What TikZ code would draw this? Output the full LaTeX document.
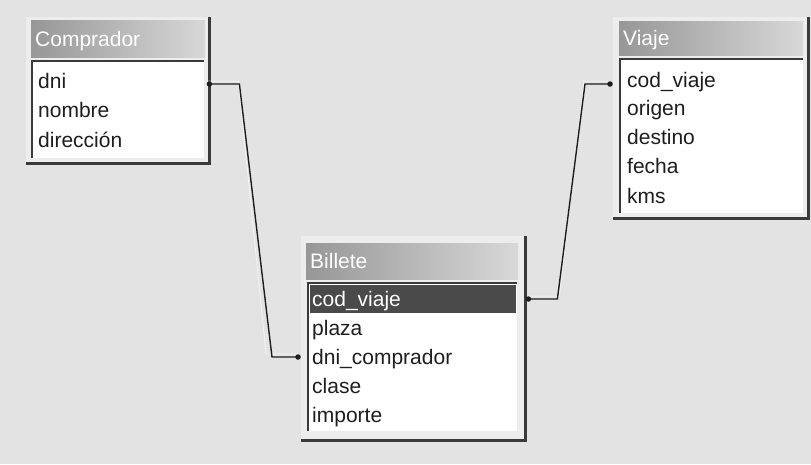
\documentclass[tikz,border=0pt]{standalone}
\usepackage{fontspec}
\setmainfont{Liberation Sans}
\definecolor{bg}{HTML}{E3E3E3}
\definecolor{win}{HTML}{EDEDED}
\definecolor{frame}{HTML}{3A3A3A}
\definecolor{tleft}{HTML}{979797}
\definecolor{tright}{HTML}{D8D8D8}
\definecolor{sel}{HTML}{4A4A4A}
\definecolor{ink}{HTML}{1E1E1E}
\tikzset{
  winbox/.style={fill=win, draw=none, anchor=north west, inner sep=0pt},
  titlebar/.style={left color=tleft, right color=tright, draw=none, anchor=north west, inner sep=0pt},
  listbox/.style={fill=white, draw=none, anchor=north west, inner sep=0pt},
  selbox/.style={fill=sel, draw=none, anchor=north west, inner sep=0pt},
  framepath/.style={draw=frame, line width=2.6pt},
  listline/.style={draw=frame, line width=1.6pt},
  field/.style={anchor=west, inner sep=0pt, text height=17pt, text depth=2pt, font=\fontsize{21}{24}\selectfont, text=ink},
  selfield/.style={field, text=white},
  ttl/.style={anchor=west, inner sep=0pt, text height=17pt, text depth=2pt, font=\fontsize{21}{24}\selectfont, text=white},
  rel/.style={draw=ink, line width=1.4pt},
  relshadow/.style={draw=white, line width=1pt, opacity=0.5},
  enddot/.style={fill=ink, circle, inner sep=0pt, minimum size=5.5pt}
}
\begin{document}
\begin{tikzpicture}[x=1pt, y=-1pt]
\useasboundingbox (0,0) rectangle (811,464);
\fill[bg] (0,0) rectangle (811,464);

% ---------- Comprador ----------
\node[winbox, minimum width=183, minimum height=146] (cwin) at (26,17) {};
\draw[framepath] (cwin.north east) -- (cwin.south east) -- (cwin.south west);
\node[titlebar, minimum width=174, minimum height=37] (ctitle) at (31,20) {};
\node[ttl] (ctext) at (35,39) {Comprador};
\node[listbox, minimum width=172, minimum height=97] (clist) at (32,61) {};
\draw[listline] (clist.south west) -- (clist.north west) -- (clist.north east);
\node[field] (cdni) at (38,81) {dni};
\node[field] (cnom) at (38,110) {nombre};
\node[field] (cdir) at (38,140) {dirección};

% ---------- Viaje ----------
\node[winbox, minimum width=195, minimum height=201] (vwin) at (613,17) {};
\draw[framepath] (vwin.north east) -- (vwin.south east) -- (vwin.south west);
\node[titlebar, minimum width=184, minimum height=34] (vtitle) at (619,21) {};
\node[ttl] (vtext) at (623,38) {Viaje};
\node[listbox, minimum width=183, minimum height=154] (vlist) at (620,59) {};
\draw[listline] (vlist.south west) -- (vlist.north west) -- (vlist.north east);
\node[field] (vcod) at (627,80) {cod\_viaje};
\node[field] (vori) at (627,108) {origen};
\node[field] (vdes) at (627,137) {destino};
\node[field] (vfec) at (627,166) {fecha};
\node[field] (vkms) at (627,196) {kms};

% ---------- Billete ----------
\node[winbox, minimum width=224, minimum height=204] (bwin) at (301,236) {};
\draw[framepath] (bwin.north east) -- (bwin.south east) -- (bwin.south west);
\node[titlebar, minimum width=212, minimum height=36] (btitle) at (306,243) {};
\node[ttl] (btext) at (310,261) {Billete};
\node[listbox, minimum width=209, minimum height=148] (blist) at (308,283) {};
\draw[listline] (blist.south west) -- (blist.north west) -- (blist.north east);
\node[selbox, minimum width=206, minimum height=28] (bsel) at (310,285) {};
\node[selfield] (bcod) at (312,299) {cod\_viaje};
\node[field] (bpla) at (312,328) {plaza};
\node[field] (bdni) at (312,357) {dni\_comprador};
\node[field] (bcla) at (312,386) {clase};
\node[field] (bimp) at (312,415) {importe};

% ---------- relationships ----------
\coordinate (r1a) at ([yshift=-3pt]cdni -| cwin.east);
\coordinate (r1b) at ([xshift=-3pt]bdni -| bwin.west);
\coordinate (r2a) at ([xshift=3pt]bcod -| bwin.east);
\coordinate (r2b) at ([xshift=-3pt,yshift=-4pt]vcod -| vwin.west);

\draw[relshadow] ([xshift=-2pt,yshift=3pt]r1a) -- ++(31,0) -- ([xshift=-32pt,yshift=3pt]r1b) -- ([yshift=3pt]r1b);
\draw[relshadow] ([yshift=3pt]r2a) -- ++(31,0) -- ([xshift=-26pt,yshift=3pt]r2b) -- ([yshift=3pt]r2b);

\draw[rel] (r1a) -- ++(30,0) -- ([xshift=-26pt]r1b) -- (r1b);
\draw[rel] (r2a) -- ++(29,0) -- ([xshift=-25pt]r2b) -- (r2b);
\node[enddot] (d1) at (r1a) {};
\node[enddot] (d2) at (r1b) {};
\node[enddot] (d3) at (r2a) {};
\node[enddot] (d4) at (r2b) {};
\end{tikzpicture}
\end{document}
